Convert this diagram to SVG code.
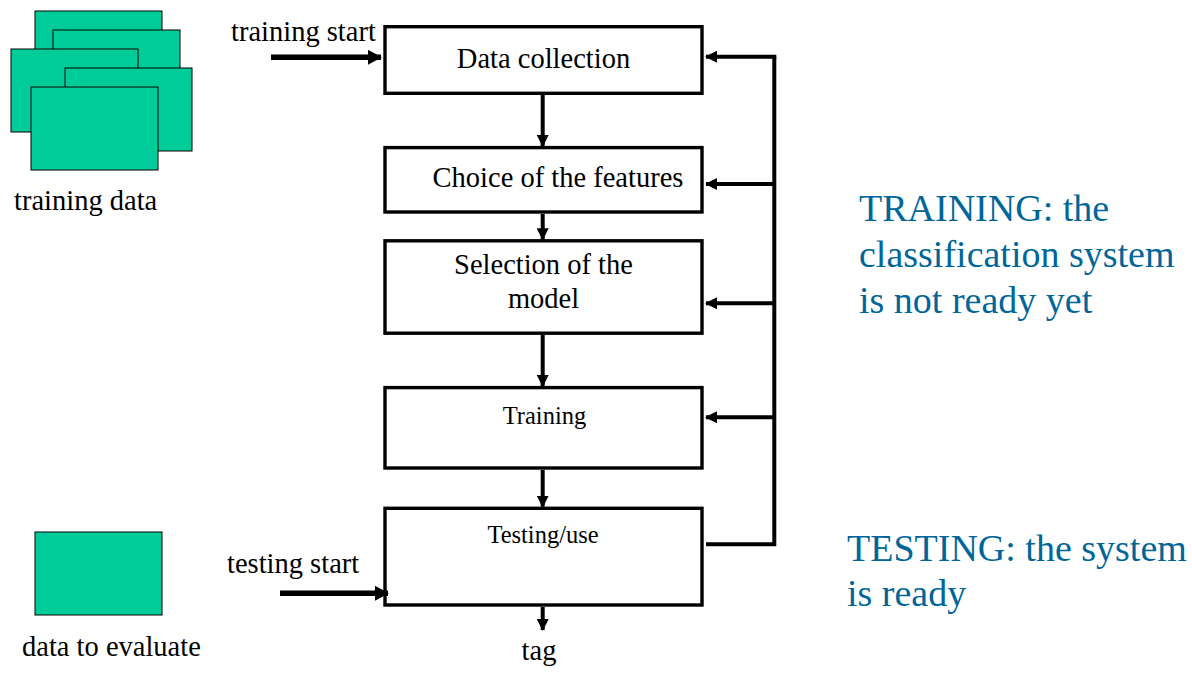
<svg xmlns="http://www.w3.org/2000/svg" width="1192" height="677" viewBox="0 0 1192 677">
<style>
.data{fill:#00CC99;stroke:#000;stroke-width:1}
.box{fill:#fff;stroke:#000;stroke-width:3.4}
.t{fill:#000}
.t28{font-size:28.5px}
.t24{font-size:24.5px}
.blue{font-size:38px;fill:#006699}
.c{fill:none;stroke:#000;stroke-width:4}
.in{fill:none;stroke:#000;stroke-width:5.5}
</style>
<defs>
<marker id="ah" markerUnits="userSpaceOnUse" markerWidth="12" markerHeight="12" viewBox="0 0 12 12" refX="11" refY="6" orient="auto">
<path d="M0,0 L12,6 L0,12 z" fill="#000"/>
</marker>
<marker id="ahb" markerUnits="userSpaceOnUse" markerWidth="14" markerHeight="15" viewBox="0 0 14 15" refX="13" refY="7.5" orient="auto">
<path d="M0,0 L14,7.5 L0,15 z" fill="#000"/>
</marker>
</defs>
<rect width="1192" height="677" fill="#fff"/>
<g font-family="'Liberation Serif', 'Times New Roman', serif">
<g id="training-data">
<rect class="data" x="35" y="11" width="127" height="83"/>
<rect class="data" x="53" y="30" width="127" height="83"/>
<rect class="data" x="11" y="49" width="127" height="83"/>
<rect class="data" x="65" y="68" width="127" height="83"/>
<rect class="data" x="31" y="87" width="127" height="83"/>
<text class="t t28" x="14" y="210">training data</text>
</g>
<g id="data-to-evaluate">
<rect class="data" x="35" y="532" width="127" height="83"/>
<text class="t t28" x="22" y="656">data to evaluate</text>
</g>
<g id="data-collection">
<rect class="box" x="385" y="26.7" width="317" height="66.6"/>
<text class="t t28" x="543.5" y="68" text-anchor="middle">Data collection</text>
</g>
<g id="choice-features">
<rect class="box" x="385" y="147.6" width="317" height="64.4"/>
<text class="t t28" x="558" y="187" text-anchor="middle">Choice of the features</text>
</g>
<g id="selection-model">
<rect class="box" x="385" y="240.8" width="317" height="92.4"/>
<text class="t t28" x="543.5" y="274" text-anchor="middle">Selection of the</text>
<text class="t t28" x="543.5" y="308" text-anchor="middle">model</text>
</g>
<g id="training">
<rect class="box" x="385" y="387.6" width="317" height="80.4"/>
<text class="t t24" x="544.5" y="424" text-anchor="middle">Training</text>
</g>
<g id="testing">
<rect class="box" x="385" y="508.3" width="317" height="96.7"/>
<text class="t t24" x="543" y="543" text-anchor="middle">Testing/use</text>
</g>
<g id="labels">
<text class="t t28" x="231" y="41">training start</text>
<text class="t t28" x="227" y="573">testing start</text>
<text class="t t28" x="539" y="660" text-anchor="middle">tag</text>
<text class="blue" x="859" y="221">TRAINING: the</text>
<text class="blue" x="859" y="267">classification system</text>
<text class="blue" x="859" y="313">is not ready yet</text>
<text class="blue" x="847" y="561">TESTING: the system</text>
<text class="blue" x="847" y="606">is ready</text>
</g>
</g>
<g id="connectors">
<line class="in" x1="271" y1="57.3" x2="381" y2="57.3" marker-end="url(#ahb)"/>
<line class="in" x1="280" y1="593.3" x2="388" y2="593.3" marker-end="url(#ahb)"/>
<line class="c" x1="542.7" y1="95" x2="542.7" y2="146" marker-end="url(#ah)"/>
<line class="c" x1="542.7" y1="214" x2="542.7" y2="239.3" marker-end="url(#ah)"/>
<line class="c" x1="542.7" y1="335" x2="542.7" y2="386" marker-end="url(#ah)"/>
<line class="c" x1="542.7" y1="470" x2="542.7" y2="506.7" marker-end="url(#ah)"/>
<line class="c" x1="542.7" y1="607" x2="542.7" y2="630" marker-end="url(#ah)"/>
<polyline class="c" points="706,544.3 774.3,544.3 774.3,56.7"/>
<line class="c" x1="776.3" y1="56.7" x2="706" y2="56.7" marker-end="url(#ah)"/>
<line class="c" x1="774.3" y1="184" x2="706" y2="184" marker-end="url(#ah)"/>
<line class="c" x1="774.3" y1="303.3" x2="706" y2="303.3" marker-end="url(#ah)"/>
<line class="c" x1="774.3" y1="417.3" x2="706" y2="417.3" marker-end="url(#ah)"/>
</g>
</svg>
